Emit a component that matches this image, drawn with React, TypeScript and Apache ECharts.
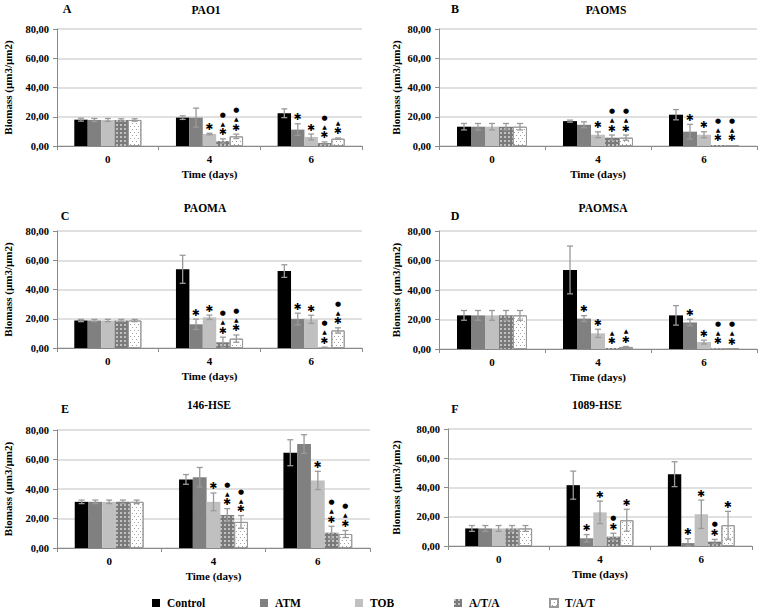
import React, { useEffect, useRef } from "react";
import * as echarts from "echarts";

const categories = ["0", "4", "6"];
const seriesNames = ["Control", "ATM", "TOB", "A/T/A", "T/A/T"];
const panelTitles = ["PAO1", "PAOMS", "PAOMA", "PAOMSA", "146-HSE", "1089-HSE"];
const panelLetters = ["A", "B", "C", "D", "E", "F"];
const yTicks = [0, 20, 40, 60, 80];

// values[panel][series][day]
const pao1Values = [[18, 19.4, 22.4], [17.8, 19.4, 11.2], [17.8, 8.2, 6.2], [17.8, 3.4, 2], [17.8, 6.6, 5]];
const pao1Errors = [[1, 1.2, 3], [1, 6.5, 4], [1, 0.5, 2], [0.8, 1.5, 0.8], [0.8, 1.5, 0.5]];
const pao1Marks = [["", "", ""], ["", "", "s"], ["", "s", "s"], ["", "stc", "stc"], ["", "stc", "st"]];

const paomsValues = [[13.2, 17, 21.4], [13.2, 14.5, 9.8], [13.2, 7.7, 7.7], [13.2, 5.7, 0.7], [13.2, 5.7, 0.5]];
const paomsErrors = [[2.2, 0.7, 3.5], [2.2, 2, 5], [2.2, 2, 2], [2.2, 1.8, 0.2], [2.2, 1.8, 0.2]];
const paomsMarks = [["", "", ""], ["", "", "s"], ["", "s", "s"], ["", "stc", "stc"], ["", "stc", "stc"]];

const paomaValues = [[18.8, 53.8, 52.6], [18.8, 16.2, 19.8], [18.8, 21, 19.6], [18.8, 3.9, 0.3], [18.8, 6.4, 12]];
const paomaErrors = [[0.8, 9.6, 4.3], [0.8, 3.5, 4], [0.8, 1.5, 2.8], [0.8, 3.5, 0.3], [0.8, 2.5, 1.8]];
const paomaMarks = [["", "", ""], ["", "s", "s"], ["", "s", "s"], ["", "stc", "stc"], ["", "stc", "stc"]];

const paomsaValues = [[22.8, 53.6, 22.8], [22.8, 20.6, 18], [22.8, 10.6, 4.7], [22.8, 0.7, 0.5], [22.8, 1.4, 0.3]];
const paomsaErrors = [[3.3, 16.2, 6.6], [3.3, 2, 2.2], [3.3, 2.8, 1.3], [3.3, 0.2, 0.2], [3.3, 0.3, 0.1]];
const paomsaMarks = [["", "", ""], ["", "s", "s"], ["", "s", "s"], ["", "st", "stc"], ["", "st", "stc"]];

const hse146Values = [[31.3, 46.5, 64.6], [31.3, 48, 70.5], [31.3, 31.3, 45.8], [31.3, 22.4, 10.4], [31.3, 17.7, 9.5]];
const hse146Errors = [[1.2, 3.3, 8.8], [1.2, 6.6, 6.3], [1.2, 6, 6.2], [1.2, 4.3, 4.3], [1.2, 4.3, 2.4]];
const hse146Marks = [["", "", ""], ["", "", ""], ["", "s", "s"], ["", "stc", "stc"], ["", "stc", "stc"]];

const hse1089Values = [[12, 41.6, 49.1], [12, 5.3, 2], [12, 23, 21.7], [12, 6.4, 3], [12, 17.6, 14.2]];
const hse1089Errors = [[2, 9.6, 8.5], [2, 2.5, 3], [2, 7.7, 9.7], [2, 2.3, 1.5], [2, 7.5, 9.5]];
const hse1089Marks = [["", "", ""], ["", "s", "s"], ["", "s", "s"], ["", "sc", "sc"], ["", "s", "s"]];

const allValues = [pao1Values, paomsValues, paomaValues, paomsaValues, hse146Values, hse1089Values];
const allErrors = [pao1Errors, paomsErrors, paomaErrors, paomsaErrors, hse146Errors, hse1089Errors];
const allMarks = [pao1Marks, paomsMarks, paomaMarks, paomsaMarks, hse146Marks, hse1089Marks];

const FONT = '"Liberation Serif", "Times New Roman", serif';

const grids = [
  { left: 57, top: 29, width: 305, height: 117, yGap: 44, letter: [67, 9], title: [206, 10] },
  { left: 439, top: 29, width: 318, height: 117, yGap: 38, letter: [455, 9], title: [606, 10] },
  { left: 57, top: 231, width: 305, height: 117, yGap: 44, letter: [65, 216], title: [205, 208] },
  { left: 439, top: 231, width: 318, height: 118, yGap: 38, letter: [455, 216], title: [603, 208] },
  { left: 57, top: 430, width: 313, height: 118, yGap: 44, letter: [65, 409], title: [209, 405] },
  { left: 448, top: 429, width: 304, height: 117, yGap: 47, letter: [455, 409], title: [597, 405] },
];

const barStyles: any[] = [
  { color: "#000000" },
  { color: "#808080" },
  { color: "#c0c0c0" },
  {
    color: "#7a7a7a",
    decal: { symbol: "rect", symbolSize: 0.7, dashArrayX: [2, 2], dashArrayY: [2, 2], rotation: 0, color: "#ffffff" },
  },
  {
    color: "#ffffff",
    borderColor: "#9a9a9a",
    borderWidth: 1,
    decal: {
      symbol: "rect",
      symbolSize: 0.8,
      dashArrayX: [[1, 3], [0, 2, 1, 1]],
      dashArrayY: [1, 2],
      rotation: 0,
      color: "#8a8a8a",
    },
  },
];

const markGlyph: Record<string, { t: string; size: number; font: string }> = {
  s: { t: "\u2731", size: 9.5, font: '"DejaVu Sans"' },
  t: { t: "\u25B2", size: 6, font: '"DejaVu Sans"' },
  c: { t: "\u25CF", size: 7, font: '"DejaVu Sans"' },
};

function fmt(v: number) {
  return v.toFixed(2).replace(".", ",");
}

function buildOption() {
  const grid: any[] = [];
  const xAxis: any[] = [];
  const yAxis: any[] = [];
  const series: any[] = [];
  const graphic: any[] = [];

  grids.forEach((g, p) => {
    grid.push({ left: g.left, top: g.top, width: g.width, height: g.height, containLabel: false });
    xAxis.push({
      type: "category",
      gridIndex: p,
      data: categories,
      name: "Time (days)",
      nameLocation: "middle",
      nameGap: 22,
      nameTextStyle: { fontFamily: FONT, fontWeight: "bold", fontSize: 11, color: "#000" },
      axisLine: { lineStyle: { color: "#8a8a8a", width: 1 } },
      axisTick: { show: true, length: 4, alignWithLabel: false, lineStyle: { color: "#8a8a8a" } },
      axisLabel: { fontFamily: FONT, fontWeight: "bold", fontSize: 11, color: "#000", margin: 7 },
      splitLine: { show: false },
    });
    yAxis.push({
      type: "value",
      gridIndex: p,
      min: yTicks[0],
      max: yTicks[yTicks.length - 1],
      interval: 20,
      name: "Biomass (\u00B5m3/\u00B5m2)",
      nameLocation: "middle",
      nameGap: g.yGap,
      nameTextStyle: { fontFamily: FONT, fontWeight: "bold", fontSize: 11, color: "#000" },
      axisLine: { show: true, lineStyle: { color: "#8a8a8a", width: 1 } },
      axisTick: { show: true, length: 4, lineStyle: { color: "#8a8a8a" } },
      axisLabel: { fontFamily: FONT, fontWeight: "bold", fontSize: 10.5, color: "#000", margin: 8, formatter: fmt },
      splitLine: { show: true, lineStyle: { color: "#d6d6d6", width: 1.5 } },
    });

    const vals = allValues[p];
    const errs = allErrors[p];
    const marks = allMarks[p];
    seriesNames.forEach((name, si) => {
      series.push({
        type: "bar",
        name,
        xAxisIndex: p,
        yAxisIndex: p,
        data: vals[si],
        barGap: "0%",
        barCategoryGap: "34%",
        itemStyle: barStyles[si],
        emphasis: { disabled: true },
      });
    });

    const errData: number[][] = [];
    seriesNames.forEach((_, si) => {
      categories.forEach((_c, ci) => {
        errData.push([ci, vals[si][ci], errs[si][ci], si]);
      });
    });

    series.push({
      type: "custom",
      name: "err" + p,
      xAxisIndex: p,
      yAxisIndex: p,
      z: 5,
      data: errData,
      renderItem: (params: any, api: any) => {
        const ci = api.value(0);
        const val = api.value(1);
        const err = api.value(2);
        const si = api.value(3);
        const band = api.size([1, 0])[0];
        const bw = (band * 0.66) / 5;
        const cx = api.coord([ci, 0])[0] - band * 0.33 + (si + 0.5) * bw;
        const yTop = api.coord([ci, val + err])[1];
        const yBot = api.coord([ci, Math.max(0, val - err)])[1];
        const children: any[] = [];
        const ls = { stroke: "#9a9a9a", lineWidth: 1.3 };
        if (err > 0.25) {
          children.push({ type: "line", shape: { x1: cx, y1: yTop, x2: cx, y2: yBot }, style: ls });
          children.push({ type: "line", shape: { x1: cx - 3, y1: yTop, x2: cx + 3, y2: yTop }, style: ls });
          children.push({ type: "line", shape: { x1: cx - 3, y1: yBot, x2: cx + 3, y2: yBot }, style: ls });
        }
        const m = marks[si][ci];
        let y = yTop - 7;
        for (const ch of m.split("")) {
          const gdef = markGlyph[ch];
          children.push({
            type: "text",
            x: cx,
            y,
            style: {
              text: gdef.t,
              fontSize: gdef.size,
              fontFamily: gdef.font,
              fill: "#000",
              align: "center",
              verticalAlign: "middle",
            },
          });
          y -= 8.5;
        }
        return { type: "group", children };
      },
    });

    graphic.push({
      type: "text",
      x: g.letter[0],
      y: g.letter[1],
      style: {
        text: panelLetters[p],
        font: `bold 12px ${FONT}`,
        fill: "#000",
        align: "center",
        verticalAlign: "middle",
      },
    });
    graphic.push({
      type: "text",
      x: g.title[0],
      y: g.title[1],
      style: {
        text: panelTitles[p],
        font: `bold 11.5px ${FONT}`,
        fill: "#000",
        align: "center",
        verticalAlign: "middle",
      },
    });
  });

  const legendX = [150, 258, 353, 452, 547];
  const legend = seriesNames.map((name, i) => ({
    data: [name],
    left: legendX[i],
    top: 595,
    padding: 2,
    icon: "rect",
    itemWidth: 8,
    itemHeight: 8,
    itemGap: 5,
    selectedMode: false,
    textStyle: { fontFamily: FONT, fontWeight: "bold", fontSize: 11.5, color: "#000", padding: [0, 0, 0, 2] },
  }));

  return {
    animation: false,
    backgroundColor: "#ffffff",
    grid,
    xAxis,
    yAxis,
    series,
    graphic,
    legend,
  };
}

export default function App() {
  const ref = useRef<HTMLDivElement>(null);
  useEffect(() => {
    if (!ref.current) return;
    const chart = echarts.init(ref.current, null, { renderer: "svg" });
    chart.setOption(buildOption() as any);
    return () => chart.dispose();
  }, []);
  return (
    <div
      ref={ref}
      style={{ position: "absolute", left: 0, top: 0, width: 760, height: 613, background: "#fff" }}
    />
  );
}
